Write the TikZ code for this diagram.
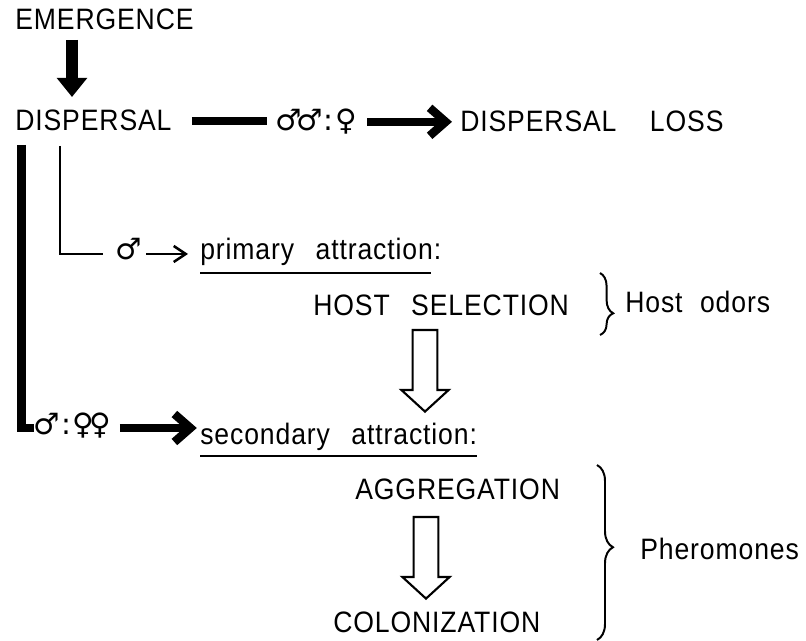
\documentclass[tikz,border=0pt]{standalone}
\usepackage{fontspec}
\setmainfont{Liberation Sans}[WordSpace=2.6, LetterSpace=3, FakeStretch=0.9]
\newfontfamily\symfont{DejaVu Sans}
\usetikzlibrary{arrows.meta,decorations.pathreplacing}

\begin{document}
\begin{tikzpicture}[
  lbl/.style={inner sep=0, anchor=base west, font=\fontsize{21}{25}\selectfont},
  sym/.style={inner sep=0, anchor=base west, font=\symfont\fontsize{21}{25}\selectfont},
  fatline/.style={line width=6pt, line join=miter},
  fatarrow/.style={line width=6pt, -{Straight Barb[length=0.4cm, width=0.7cm]}},
  thinline/.style={line width=1.8pt, line join=miter},
  thinarrow/.style={line width=1.8pt, -{Straight Barb[length=0.3cm, width=0.4cm]}},
  hollow/.style={line width=1.5pt, line join=miter},
  brace/.style={line width=1.4pt, decorate, decoration={brace, amplitude=#1}}
]

\useasboundingbox (0, 0) rectangle (20.15, 16.025);

% Main stages (left column)
\node[lbl] (emerg) at (0.375, 15.275) {EMERGENCE};
\node[lbl] (disp) at (0.375, 12.75) {DISPERSAL};

% Sex ratio -> dispersal loss
\node[sym] (ratio1) at (6.875, 12.75) {♂\kern-4pt♂\kern1pt:\kern1pt♀};
\node[lbl] (loss) at (11.5, 12.725) {DISPERSAL\hspace{0.3cm} LOSS};

% Primary attraction
\node[sym] (male1) at (2.875, 9.525) {♂};
\node[lbl] (prim) at (5.0, 9.525) {primary attraction:};
\node[lbl] (host) at (7.825, 8.125) {HOST SELECTION};
\node[lbl] (hodors) at (15.625, 8.2) {Host\hspace{-0.1cm} odors};

% Secondary attraction
\node[sym] (ratio2) at (0.825, 5.15) {♂\kern1pt:\kern1pt♀\kern-3pt♀};
\node[lbl] (sec) at (5.0, 4.9) {secondary attraction:};
\node[lbl] (aggr) at (8.875, 3.525) {AGGREGATION};
\node[lbl] (colon) at (8.325, 0.2) {COLONIZATION};
\node[lbl] (pher) at (16.0, 2.025) {Pheromones};

% Helper coordinates for the horizontal leads
\coordinate (pline) at ([yshift=0.15cm]prim.base west);
\coordinate (sline) at ([yshift=0.425cm]sec.base west);

% Emergence -> dispersal
\draw[line width=8.5pt, -{Triangle[length=0.48cm, width=0.74cm]}]
  ([xshift=1.425cm, yshift=-0.25cm]emerg.base west) -- ([xshift=1.425cm, yshift=0.85cm]disp.base west);

% Dispersal loss
\draw[fatline, shorten <=0.5cm, shorten >=0.2cm] (disp.east) -- (disp.east -| ratio1.west);
\draw[fatarrow, shorten <=0.25cm, shorten >=0.2cm] (ratio1.east |- loss.west) -- (loss.west);

% Thin lead to primary attraction
\draw[thinline] ([xshift=1.125cm, yshift=-0.375cm]disp.base west) |- ([xshift=-0.3cm]male1.west |- pline);
\draw[thinarrow] ([xshift=0.1cm]male1.east |- pline) -- ([xshift=-0.3cm]pline);
\draw[thinline] ([yshift=-0.325cm]prim.base west) -- ([xshift=-0.25cm, yshift=-0.325cm]prim.base east);

% Thick lead to secondary attraction
\draw[fatline] ([xshift=0.16cm, yshift=-0.35cm]disp.base west) |- ([xshift=0.02cm]ratio2.west |- sline);
\draw[fatarrow] ([xshift=0.2cm]ratio2.east |- sline) -- ([xshift=-0.08cm]sline);
\draw[thinline] ([yshift=-0.275cm]sec.base west) -- ([yshift=-0.275cm]sec.base east);

% Hollow arrows
\coordinate (h1) at ([xshift=2.8cm, yshift=-0.35cm]host.base west);
\coordinate (h2) at ([xshift=1.775cm, yshift=-0.425cm]aggr.base west);
\foreach \c in {h1, h2} {
  \draw[hollow] (\c) +(-0.31, 0) -- +(0.31, 0) -- +(0.31, -1.5) -- +(0.59, -1.5)
    -- +(0, -2.04) -- +(-0.59, -1.5) -- +(-0.31, -1.5) -- cycle;
}

% Braces
\draw[brace=0.33cm, decoration={aspect=0.65}]
  ([xshift=-0.625cm, yshift=1.0cm]hodors.base west) -- ([xshift=-0.625cm, yshift=-0.55cm]hodors.base west);
\draw[brace=0.4cm, decoration={aspect=0.47}]
  ([xshift=-1.075cm, yshift=2.375cm]pher.base west) -- ([xshift=-1.075cm, yshift=-2.0cm]pher.base west);

\end{tikzpicture}
\end{document}
